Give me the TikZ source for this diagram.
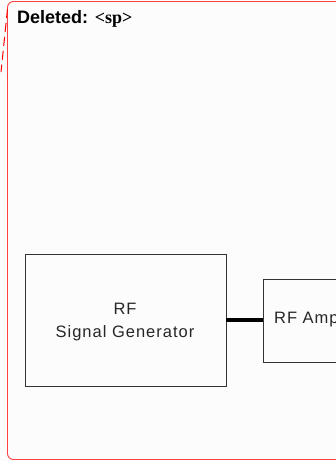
\documentclass[tikz,border=0pt]{standalone}
\usepackage{fontspec}
\setmainfont{Liberation Sans}
\newfontfamily\serifb{Liberation Serif}
\newfontfamily\wide[LetterSpace=6]{Liberation Sans}
\begin{document}
\begin{tikzpicture}[x=1pt,y=-1pt,
  blk/.style={draw=black!80,line width=0.9pt,fill=none},
  lbl/.style={font=\wide\fontsize{16.5}{23}\selectfont,align=center,text=black!85},
  frame/.style={draw=red!75,line width=0.9pt}]
\useasboundingbox (0,0) rectangle (336,461);
\clip (0,0) rectangle (336,461);
\fill[white!99!black] (0,0) rectangle (336,461);
\draw[frame,rounded corners=6pt] (360,1.5) -- (7.5,1.5) -- (7.5,459.5) -- (360,459.5);
\draw[draw=red,line width=1pt,dash pattern=on 9pt off 5pt] (7.5,9) -- (1,72);
\node[anchor=base west,inner sep=0pt,font=\fontsize{18}{20}\selectfont\bfseries] (del) at (17,23) {Deleted: {\serifb <sp>}};
\draw[blk] (25,254) rectangle (226,386);
\coordinate (g) at (226,320);
\node[lbl,inner sep=0pt,anchor=base] (gen) at (125,337) {RF\\Signal Generator};
\draw[blk] (400,279) -- (263,279) -- (263,362) -- (400,362);
\coordinate (a) at (263,320);
\node[lbl,anchor=west,inner sep=0pt] (amp) at (274,320) {RF Amp};
\draw[line width=4pt] (g) -- (a);
\end{tikzpicture}
\end{document}
